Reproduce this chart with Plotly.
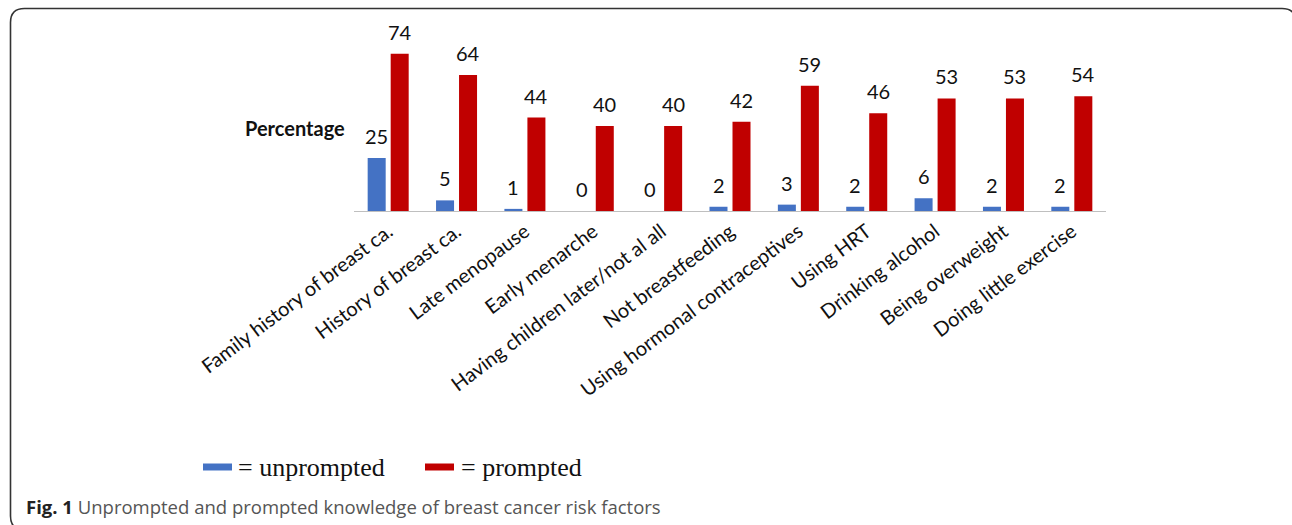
import plotly.graph_objects as go

categories = ["Family history of breast ca.", "History of breast ca.", "Late menopause",
              "Early menarche", "Having children later/not al all", "Not breastfeeding",
              "Using hormonal contraceptives", "Using HRT", "Drinking alcohol",
              "Being overweight", "Doing little exercise"]
unprompted = [25, 5, 1, 0, 0, 2, 3, 2, 6, 2, 2]
prompted = [74, 64, 44, 40, 40, 42, 59, 46, 53, 53, 54]

W_FIG, H_FIG = 1292, 525
L, R, T, B = 354, 186, 41, 314
PW = W_FIG - L - R
PH = H_FIG - T - B

def px(x):
    return (x - L) / PW

def py(y):
    return (H_FIG - B - y) / PH

BLUE = "#4472C4"
RED = "#C00000"
LABEL_FONT = dict(family="Lato, Carlito, sans-serif", size=20, color="#111111")

fig = go.Figure()
fig.add_trace(go.Bar(x=categories, y=unprompted, name="unprompted",
                     marker=dict(color=BLUE, line=dict(width=0))))
fig.add_trace(go.Bar(x=categories, y=prompted, name="prompted",
                     marker=dict(color=RED, line=dict(width=0))))

# data labels
for i, (c, u, p) in enumerate(zip(categories, unprompted, prompted)):
    for val, off in ((u, -0.167), (p, 0.167)):
        fig.add_annotation(x=i + off, y=val, xref="x", yref="y", text=str(val),
                           showarrow=False, yanchor="bottom", yshift=8,
                           font=LABEL_FONT)

# "Percentage" label
fig.add_annotation(x=px(347), y=py(128), xref="paper", yref="paper",
                   text="<b>Percentage</b>", showarrow=False,
                   xanchor="right", yanchor="middle",
                   font=dict(family="Lato, sans-serif", size=20, color="#111111"))

# legend (manual)
fig.add_shape(type="line", xref="paper", yref="paper",
              x0=px(203), x1=px(232), y0=py(467), y1=py(467),
              line=dict(color=BLUE, width=7))
fig.add_annotation(x=px(236), y=py(467), xref="paper", yref="paper",
                   text="= unprompted", showarrow=False, xanchor="left", yanchor="middle",
                   font=dict(family="Liberation Serif, Times New Roman, serif", size=26, color="#111111"))
fig.add_shape(type="line", xref="paper", yref="paper",
              x0=px(425), x1=px(454), y0=py(467), y1=py(467),
              line=dict(color=RED, width=7))
fig.add_annotation(x=px(459), y=py(467), xref="paper", yref="paper",
                   text="= prompted", showarrow=False, xanchor="left", yanchor="middle",
                   font=dict(family="Liberation Serif, Times New Roman, serif", size=26, color="#111111"))

# caption
fig.add_annotation(x=px(24), y=py(506), xref="paper", yref="paper",
                   text="<b>Fig. 1</b> <span style='color:#555555'>Unprompted and prompted knowledge of breast cancer risk factors</span>",
                   showarrow=False, xanchor="left", yanchor="middle",
                   font=dict(family="Open Sans, sans-serif", size=18.5, color="#222222"))

# rounded border
r = 14
x0, y0, x1, y1 = 10.5, 8.5, 1296, 530
path = (f"M {px(x0 + r)},{py(y0)} L {px(x1 - r)},{py(y0)} "
        f"Q {px(x1)},{py(y0)} {px(x1)},{py(y0 + r)} "
        f"L {px(x1)},{py(y1 - r)} Q {px(x1)},{py(y1)} {px(x1 - r)},{py(y1)} "
        f"L {px(x0 + r)},{py(y1)} Q {px(x0)},{py(y1)} {px(x0)},{py(y1 - r)} "
        f"L {px(x0)},{py(y0 + r)} Q {px(x0)},{py(y0)} {px(x0 + r)},{py(y0)} Z")
fig.add_shape(type="path", xref="paper", yref="paper", path=path,
              line=dict(color="#333333", width=1.6), layer="below")

fig.update_layout(
    width=W_FIG, height=H_FIG,
    margin=dict(l=L, r=R, t=T, b=B, pad=0),
    paper_bgcolor="white", plot_bgcolor="white",
    barmode="group", bargap=0.327, bargroupgap=0.217,
    showlegend=False,
    xaxis=dict(tickangle=-37, showline=True, linecolor="#BFBFBF", linewidth=1.3,
               ticks="", showgrid=False, range=[-0.5, 10.5],
               tickfont=dict(family="Lato, Carlito, sans-serif", size=20, color="#111111")),
    yaxis=dict(range=[0, 80], visible=False, showgrid=False, zeroline=False),
)

fig.write_html("out.html")
